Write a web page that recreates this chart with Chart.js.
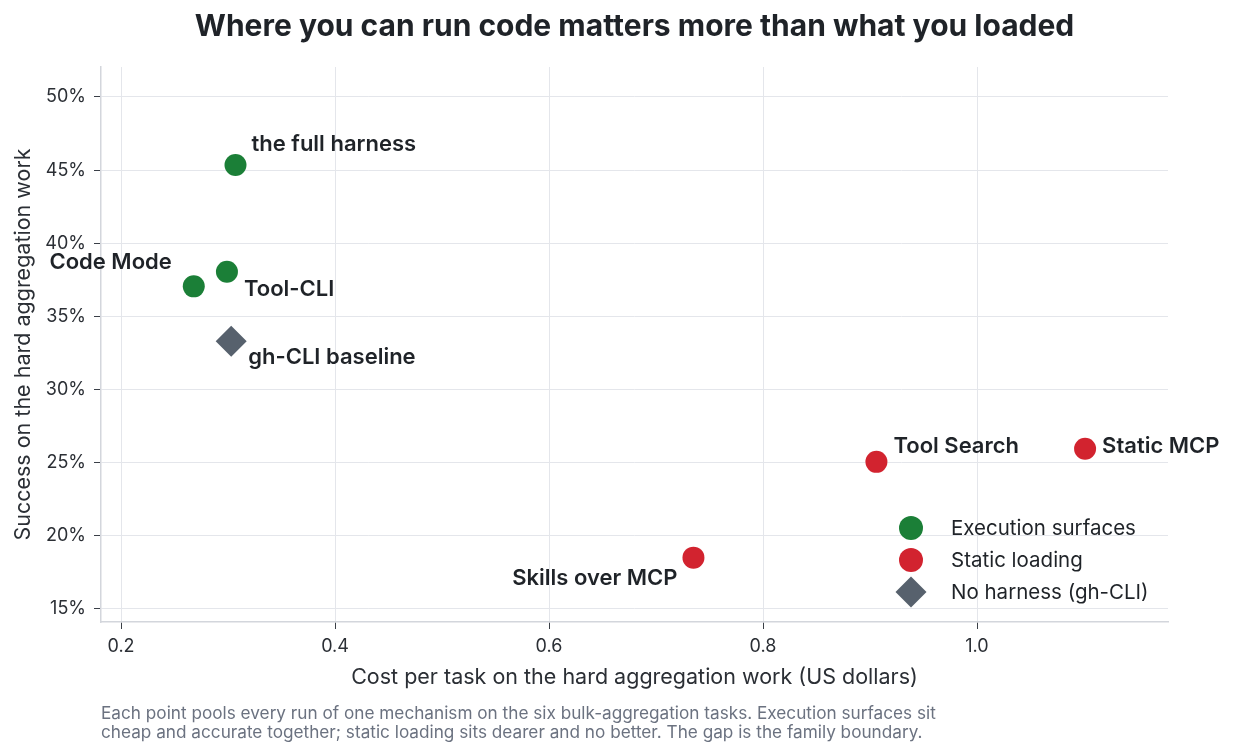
<!DOCTYPE html>
<html>
<head>
<meta charset="utf-8">
<script src="https://cdn.jsdelivr.net/npm/chart.js@4.4.1/dist/chart.umd.min.js"></script>
<style>
    html, body { margin: 0; padding: 0; background: #ffffff; }
    #wrap { position: relative; width: 1238px; height: 756px; }
    #caption {
        position: absolute; left: 101px; top: 703px; width: 920px;
        font-family: Inter, "Noto Sans", sans-serif; font-size: 17.2px; line-height: 19px;
        color: #6b7280;
    }
</style>
</head>
<body>
<div id="wrap">
    <canvas id="chart" width="1238" height="756"></canvas>
    <div id="caption">Each point pools every run of one mechanism on the six bulk-aggregation tasks. Execution surfaces sit<br>cheap and accurate together; static loading sits dearer and no better. The gap is the family boundary.</div>
</div>
<script>
// DADOS
const execNames = ['the full harness', 'Tool-CLI', 'Code Mode'];
const execCost = [0.307, 0.299, 0.268];
const execSuccess = [45.35, 38.05, 37.05];

const staticNames = ['Tool Search', 'Static MCP', 'Skills over MCP'];
const staticCost = [0.906, 1.101, 0.735];
const staticSuccess = [25.05, 25.95, 18.5];

const baseNames = ['gh-CLI baseline'];
const baseCost = [0.303];
const baseSuccess = [33.3];

const xTicks = [0.2, 0.4, 0.6, 0.8, 1.0];
const yTicks = [15, 20, 25, 30, 35, 40, 45, 50];

// POSICAO DOS RÓTULOS (dx, dy, alinhamento)
const labelPlacement = {
    'the full harness': [16, -21, 'left'],
    'Tool-CLI': [17, 18, 'left'],
    'Code Mode': [-22, -24, 'right'],
    'gh-CLI baseline': [17, 16, 'left'],
    'Tool Search': [17, -15, 'left'],
    'Static MCP': [17, -2, 'left'],
    'Skills over MCP': [-16, 21, 'right']
};

const FONT = 'Inter, "Noto Sans", sans-serif';
const TEXT = '#1f2328';
const GREEN = '#1b7f37';
const RED = '#d2232f';
const GRAY = '#57616d';

const toPoints = (xs, ys) => xs.map((x, i) => ({ x: x, y: ys[i] }));

// RÓTULOS DOS PONTOS
const pointLabels = {
    id: 'pointLabels',
    afterDatasetsDraw(chart) {
        const ctx = chart.ctx;
        ctx.save();
        ctx.font = `600 22px ${FONT}`;
        ctx.fillStyle = TEXT;
        ctx.textBaseline = 'middle';
        chart.data.datasets.forEach((ds, di) => {
            const meta = chart.getDatasetMeta(di);
            meta.data.forEach((pt, i) => {
                const name = ds.names[i];
                const p = labelPlacement[name];
                ctx.textAlign = p[2];
                ctx.fillText(name, pt.x + p[0], pt.y + p[1]);
            });
        });
        ctx.restore();
    }
};

// LEGENDA DENTRO DA ÁREA DO GRÁFICO
const innerLegend = {
    id: 'innerLegend',
    afterDraw(chart) {
        const ctx = chart.ctx;
        const area = chart.chartArea;
        const mx = area.right - 257;
        const tx = area.right - 217;
        ctx.save();
        ctx.font = `20.5px ${FONT}`;
        ctx.textBaseline = 'middle';
        ctx.textAlign = 'left';
        chart.data.datasets.forEach((ds, i) => {
            const y = area.bottom - 94 + i * 32;
            ctx.fillStyle = ds.backgroundColor;
            ctx.beginPath();
            if (ds.pointStyle === 'rectRot') {
                const r = 15.5;
                ctx.moveTo(mx - r, y); ctx.lineTo(mx, y - r);
                ctx.lineTo(mx + r, y); ctx.lineTo(mx, y + r);
                ctx.closePath();
            } else {
                ctx.arc(mx, y, 12, 0, Math.PI * 2);
            }
            ctx.fill();
            ctx.fillStyle = TEXT;
            ctx.fillText(ds.label, tx, y + 1);
        });
        ctx.restore();
    }
};

const keepTicks = list => scale => {
    scale.ticks = list.map(v => ({ value: v }));
};

const ctx = document.getElementById('chart').getContext('2d');
new Chart(ctx, {
    type: 'scatter',
    data: {
        datasets: [
            { label: 'Execution surfaces', names: execNames, data: toPoints(execCost, execSuccess),
              backgroundColor: GREEN, borderWidth: 0, pointRadius: 11, pointHoverRadius: 11, pointStyle: 'circle' },
            { label: 'Static loading', names: staticNames, data: toPoints(staticCost, staticSuccess),
              backgroundColor: RED, borderWidth: 0, pointRadius: 11, pointHoverRadius: 11, pointStyle: 'circle' },
            { label: 'No harness (gh-CLI)', names: baseNames, data: toPoints(baseCost, baseSuccess),
              backgroundColor: GRAY, borderWidth: 0, pointRadius: 15.5, pointHoverRadius: 15.5, pointStyle: 'rectRot' }
        ]
    },
    options: {
        responsive: false,
        animation: false,
        layout: { padding: { left: 0, right: 70, top: 0, bottom: 54 } },
        plugins: {
            legend: { display: false },
            tooltip: { enabled: false },
            title: {
                display: true,
                fullSize: false,
                text: 'Where you can run code matters more than what you loaded',
                color: TEXT,
                font: { family: FONT, size: 30, weight: '700' },
                padding: { top: 9, bottom: 22 }
            }
        },
        scales: {
            x: {
                type: 'linear',
                min: 0.1813, max: 1.1785,
                afterBuildTicks: keepTicks(xTicks),
                afterFit: s => { s.height = 80; },
                grid: { color: '#e4e6eb', lineWidth: 1, tickLength: 7, tickColor: '#3a3f47' },
                border: { display: true, color: '#d3d6dc', width: 1.5 },
                ticks: { color: '#2b2f35', font: { family: FONT, size: 18 }, padding: 7,
                         callback: v => v.toFixed(1) },
                title: { display: true, text: 'Cost per task on the hard aggregation work (US dollars)',
                         color: '#2b2f35', font: { family: FONT, size: 21.5 }, padding: { top: 6, bottom: 12 } }
            },
            y: {
                type: 'linear',
                min: 14.1, max: 52.05,
                afterBuildTicks: keepTicks(yTicks),
                afterFit: s => { s.width = 101; },
                grid: { color: '#e4e6eb', lineWidth: 1, tickLength: 7, tickColor: '#3a3f47' },
                border: { display: true, color: '#d3d6dc', width: 1.5 },
                ticks: { color: '#2b2f35', font: { family: FONT, size: 18 }, padding: 8,
                         callback: v => v + '%' },
                title: { display: true, text: 'Success on the hard aggregation work',
                         color: '#2b2f35', font: { family: FONT, size: 21.5 }, padding: { top: 11, bottom: 6 } }
            }
        }
    },
    plugins: [pointLabels, innerLegend]
});
</script>
</body>
</html>
